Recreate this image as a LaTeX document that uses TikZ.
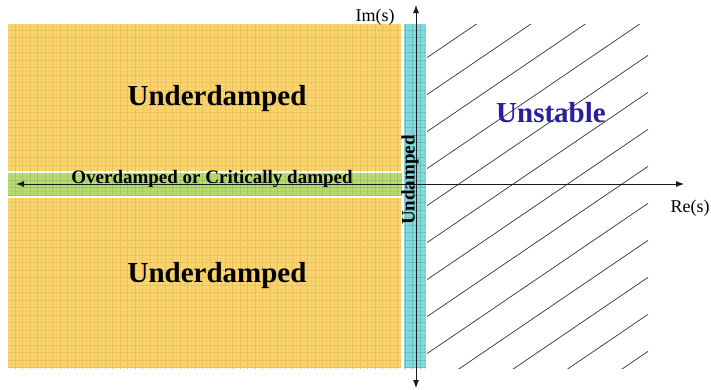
\documentclass[tikz,border=0pt]{standalone}
\usepackage{fontspec}
\setmainfont{Liberation Serif}
\usetikzlibrary{arrows.meta}
\definecolor{yel}{HTML}{FAD671}
\definecolor{yelgrid}{HTML}{EDC059}
\definecolor{grn}{HTML}{BADC74}
\definecolor{grngrid}{HTML}{9DC75C}
\definecolor{cyn}{HTML}{8CDADB}
\definecolor{cyngrid}{HTML}{5EC2C8}
\definecolor{unst}{HTML}{2A1F9E}
\begin{document}
\begin{tikzpicture}[x=1pt,y=-1pt,
  gridlines/.style={line width=0.45pt,step=7.5pt},
  finegrid/.style={line width=0.3pt,step=3.75pt,opacity=0.35},
  hatchline/.style={line width=0.7pt,color=black!80},
  axisline/.style={line width=0.9pt,color=black!90,{Latex[length=8pt,width=6pt]}-{Latex[length=8pt,width=6pt]}},
  biglabel/.style={font=\fontsize{29}{32}\selectfont\bfseries,anchor=base},
  midlabel/.style={font=\fontsize{19}{21}\selectfont\bfseries},
  axislabel/.style={font=\fontsize{18}{20}\selectfont,anchor=base}]
\useasboundingbox[fill=white] (0,0) rectangle (711,389);
% yellow regions
\fill[yel] (8,24) rectangle (401,171);
\begin{scope}
\clip (8,24) rectangle (401,171);
\draw[yelgrid,finegrid] (0,0) grid (405,175);
\draw[yelgrid,gridlines] (0,0) grid (405,175);
\end{scope}
\fill[yel] (8,198) rectangle (401,368);
\begin{scope}
\clip (8,198) rectangle (401,368);
\draw[yelgrid,finegrid] (0,195) grid (405,370);
\draw[yelgrid,gridlines] (0,195) grid (405,370);
\end{scope}
% green band
\fill[grn] (8,173) rectangle (402,195);
\begin{scope}
\clip (8,173) rectangle (402,195);
\draw[grngrid,finegrid] (0,170) grid (405,200);
\draw[grngrid,gridlines] (0,170) grid (405,200);
\end{scope}
% cyan strip
\fill[cyn] (404,24) rectangle (426,368);
\begin{scope}
\clip (404,24) rectangle (426,368);
\draw[cyngrid,finegrid] (400,20) grid (430,370);
\draw[cyngrid,gridlines] (400,20) grid (430,370);
\end{scope}
% hatching
\begin{scope}
\clip (427,24) rectangle (648,368);
\foreach \c in {348,385,...,800}
  \draw[hatchline] ({427},{\c-0.68*427}) -- ({648},{\c-0.68*648});
\end{scope}
% axes
\coordinate (xl) at (16,184);
\coordinate (xr) at (684,184);
\coordinate (yb) at (416,388);
\coordinate (yt) at (416,5);
\draw[axisline] (xl) -- (xr);
\draw[axisline] (yb) -- (yt);
% labels
\node[biglabel] (ud1) at (217,105) {Underdamped};
\node[biglabel] (ud2) at (217,282) {Underdamped};
\node[biglabel,text=unst] (un) at (551,122) {Unstable};
\node[midlabel,anchor=base] (od) at (212,183.5) {Overdamped or Critically damped};
\node[midlabel,rotate=90] (und) at (410,180) {Undamped};
\node[axislabel] (im) at (375,21) {Im(s)};
\node[axislabel] (re) at (690,212) {Re(s)};
\end{tikzpicture}
\end{document}
